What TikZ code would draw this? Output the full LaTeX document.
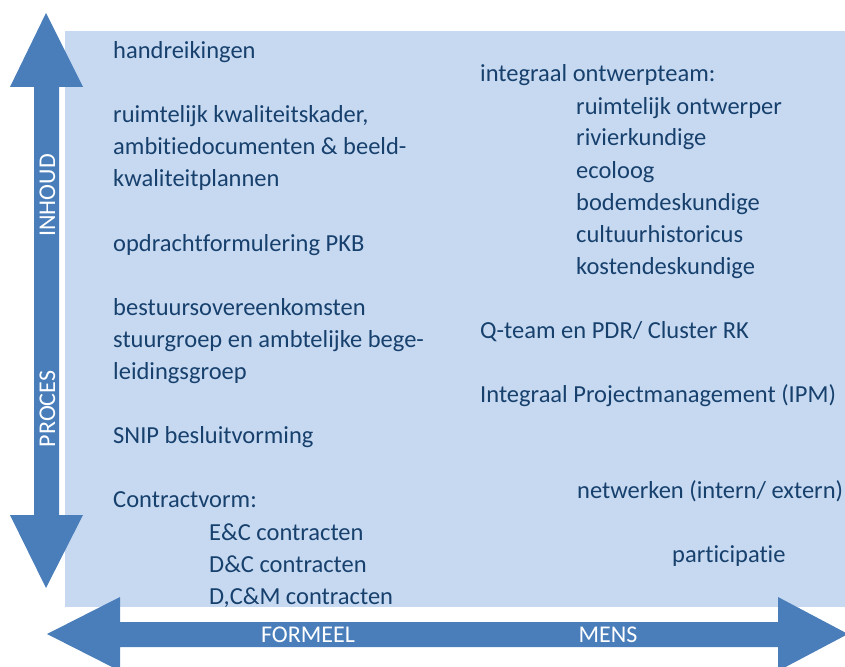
\documentclass[tikz,border=0pt]{standalone}
\usepackage{fontspec}
\setmainfont{Carlito}[Ligatures={NoCommon}, RawFeature={-liga;-clig}]
\definecolor{arrowblue}{HTML}{4A7EBB}
\definecolor{panelblue}{HTML}{C6D9F1}
\definecolor{textblue}{HTML}{17406D}

\begin{document}
\begin{tikzpicture}[
  x=1pt, y=-1pt,
  txt/.style={anchor=base west, inner sep=0pt, text=textblue, font=\fontsize{24.5}{32}\selectfont},
  axislabel/.style={anchor=base, inner sep=0pt, text=white, font=\fontsize{24}{28}\selectfont},
  bigarrow/.style={fill=arrowblue, draw=none},
]
\useasboundingbox (0,0) rectangle (845,666);

% Panel
\fill[panelblue] (65,31) rectangle (845,607);

% Vertical axis: inhoud / proces
\fill[bigarrow] (46,13) -- (83,87) -- (59,87) -- (59,515) -- (83,515) -- (46,588)
  -- (10,515) -- (34,515) -- (34,87) -- (10,87) -- cycle;
\node[axislabel, rotate=90] (inhoud) at (55,195.5) {INHOUD};
\node[axislabel, rotate=90] (proces) at (55,409) {PROCES};

% Horizontal axis: formeel / mens
\fill[bigarrow] (47,634) -- (120,597) -- (120,622) -- (778,622) -- (778,597) -- (848,634)
  -- (778,671) -- (778,647) -- (120,647) -- (120,671) -- cycle;
\node[axislabel] (formeel) at (308,642) {FORMEEL};
\node[axislabel] (mens) at (608,642) {MENS};

% Left column
\node[txt] (handr) at (113,58.5) {handreikingen};
\node[txt] (kader1) at (113,122.7) {ruimtelijk kwaliteitskader,};
\node[txt] (kader2) at (113,154.8) {ambitiedocumenten \& beeld-};
\node[txt] (kader3) at (113,186.9) {kwaliteitplannen};
\node[txt] (pkb) at (113,251.1) {opdrachtformulering PKB};
\node[txt] (bestuur1) at (113,315.3) {bestuursovereenkomsten};
\node[txt] (bestuur2) at (113,347.4) {stuurgroep en ambtelijke bege-};
\node[txt] (bestuur3) at (113,379.5) {leidingsgroep};
\node[txt] (snip) at (113,443.7) {SNIP besluitvorming};
\node[txt] (contract) at (113,507.9) {Contractvorm:};
\node[txt] (ec) at (209,540) {E\&C contracten};
\node[txt] (dc) at (209,572.1) {D\&C contracten};
\node[txt] (dcm) at (209,604.2) {D,C\&M contracten};

% Right column
\node[txt] (team) at (480,82) {integraal ontwerpteam:};
\node[txt] (ontwerper) at (576,114) {ruimtelijk ontwerper};
\node[txt] (rivier) at (576,146) {rivierkundige};
\node[txt] (ecoloog) at (576,178) {ecoloog};
\node[txt] (bodem) at (576,210) {bodemdeskundige};
\node[txt] (cultuur) at (576,242) {cultuurhistoricus};
\node[txt] (kosten) at (576,274) {kostendeskundige};
\node[txt] (qteam) at (480,338) {Q-team en PDR/ Cluster RK};
\node[txt] (ipm) at (480,402) {Integraal Projectmanagement (IPM)};
\node[txt] (netwerk) at (577,498) {netwerken (intern/ extern)};
\node[txt] (particip) at (672,562) {participatie};

\end{tikzpicture}
\end{document}
